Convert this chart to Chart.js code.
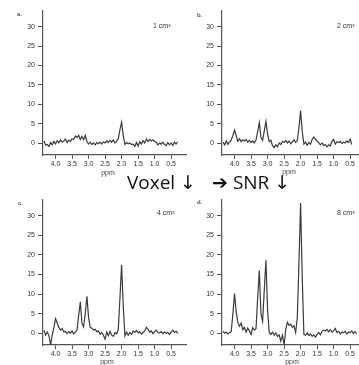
<!DOCTYPE html>
<html><head><meta charset="utf-8">
<script src="https://cdn.jsdelivr.net/npm/chart.js@4/dist/chart.umd.min.js"></script>
<style>
html,body{margin:0;padding:0;background:#fff;width:359px;height:365px;overflow:hidden;position:relative}
canvas{position:absolute}
.t{position:absolute;font-family:"Liberation Sans",Arial,sans-serif;color:#444;white-space:nowrap;line-height:1}
.lt{font-size:6px;font-weight:bold;color:#555}
.vol{font-size:7px;color:#333}
.ppm{font-size:7px;color:#444;transform:translateX(-50%)}
.big{position:absolute;font-family:"Open Sans","DejaVu Sans",sans-serif;font-size:19px;font-weight:500;color:#111;white-space:nowrap;line-height:19px}
</style></head><body>
<canvas id="ca" width="190" height="180" style="left:0;top:0;width:190px;height:180px"></canvas>
<canvas id="cb" width="190" height="180" style="left:179px;top:0;width:190px;height:180px"></canvas>
<canvas id="cc" width="190" height="180" style="left:0;top:189px;width:190px;height:180px"></canvas>
<canvas id="cd" width="190" height="180" style="left:179px;top:189px;width:190px;height:180px"></canvas>

<div class="t lt" style="left:17px;top:11px">a.</div>
<div class="t lt" style="left:197px;top:12px">b.</div>
<div class="t lt" style="left:18px;top:200px">c.</div>
<div class="t lt" style="left:197px;top:199px">d.</div>

<div class="t vol" style="left:153px;top:22px">1 cm³</div>
<div class="t vol" style="left:337px;top:22px">2 cm³</div>
<div class="t vol" style="left:157px;top:209px">4 cm³</div>
<div class="t vol" style="left:337px;top:209px">8 cm³</div>

<div class="t ppm" style="left:108px;top:169px">ppm</div>
<div class="t ppm" style="left:289px;top:168px">ppm</div>
<div class="t ppm" style="left:107px;top:358px">ppm</div>
<div class="t ppm" style="left:292px;top:358px">ppm</div>

<div class="big" style="left:127px;top:173px">Voxel ↓<span style="margin-left:16px">➔ SNR ↓</span></div>

<script>
// chemical shift grid (ppm)
const ppm = [4.35,4.30,4.25,4.20,4.15,4.10,4.05,4.00,3.95,3.90,
             3.85,3.80,3.75,3.70,3.65,3.60,3.55,3.50,3.45,3.40,
             3.35,3.30,3.25,3.20,3.15,3.10,3.05,3.00,2.95,2.90,
             2.85,2.80,2.75,2.70,2.65,2.60,2.55,2.50,2.45,2.40,
             2.35,2.30,2.25,2.20,2.15,2.10,2.05,2.00,1.95,1.90,
             1.85,1.80,1.75,1.70,1.65,1.60,1.55,1.50,1.45,1.40,
             1.35,1.30,1.25,1.20,1.15,1.10,1.05,1.00,0.95,0.90,
             0.85,0.80,0.75,0.70,0.65,0.60,0.55,0.50,0.45,0.40,
             0.35,0.30];

// a. 1 cm3
const spec1 = [0.6,-0.5,-0.3,-0.8,0.2,-0.4,0.5,-0.2,0.7,0.1,
               0.9,0.3,0.6,1.1,0.2,0.8,0.5,1.2,1.0,1.9,
               1.5,2.1,1.0,1.8,0.9,2.0,0.4,-0.2,0.3,-0.3,
               0.1,-0.4,0.2,-0.1,0.3,-0.2,0.4,0.1,0.6,0.2,
               0.8,0.3,0.9,0.1,0.5,1.2,3.5,5.4,2.0,-0.3,
               0.2,-0.1,0.1,-0.3,-0.2,-0.8,0.2,-0.7,0.4,-0.2,
               0.7,0.1,1.1,0.4,1.0,0.6,0.9,0.5,0.3,-0.4,
               0.1,-0.2,0.3,-0.3,-0.6,0.2,-0.4,0.1,-0.5,0.3,
               -0.2,0.4];
// b. 2 cm3
const spec2 = [0.3,-0.4,0.6,-0.3,0.4,0.8,2.0,3.4,2.0,0.5,
               1.2,0.4,0.9,0.6,1.0,0.3,0.8,0.2,0.6,0.1,
               0.9,3.0,5.3,1.5,0.8,3.2,5.6,2.4,0.5,0.8,
               -0.6,-1.1,-0.4,-0.9,0.1,-0.3,0.5,0.2,0.7,0.1,
               0.6,-0.1,0.4,0.9,0.2,0.7,4.0,8.4,3.0,-0.2,
               0.3,-0.5,0.2,-0.2,1.0,1.6,1.1,0.6,0.2,-0.4,
               0.1,-0.6,-0.3,-0.9,-0.4,-0.7,0.5,1.0,-0.2,0.4,
               0.2,0.5,-0.1,0.3,0.1,0.6,0.2,1.1,-0.3,null,
               null,null];
// c. 4 cm3
const spec4 = [0.8,-0.5,0.3,-0.6,-3.0,-0.4,1.5,3.7,2.6,1.5,
               0.8,1.2,0.3,0.5,-0.1,0.4,0.0,0.6,-0.2,0.3,
               0.8,4.5,8.0,2.5,1.6,5.0,9.4,4.0,1.5,1.3,
               0.8,1.0,0.4,0.6,-0.3,0.2,-0.5,-1.5,0.3,-0.6,
               0.5,-0.5,-0.8,0.2,-0.2,1.0,9.0,17.5,7.0,-0.7,
               0.3,-0.5,0.2,-0.3,0.6,0.2,0.7,0.1,0.4,-0.2,
               0.2,0.6,1.5,1.0,0.3,0.6,-0.1,0.4,0.8,0.2,
               0.1,0.4,-0.1,0.3,0.0,0.2,-0.3,0.3,0.8,0.2,
               0.5,0.0];
// d. 8 cm3
const spec8 = [0.5,0.0,0.3,-0.2,0.1,0.4,5.0,10.1,5.5,2.7,
               1.8,2.6,0.9,1.5,0.3,1.3,0.6,-0.3,1.4,0.8,
               1.2,9.0,16.0,5.0,3.0,11.0,18.6,6.0,0.2,-0.3,
               0.3,-0.5,0.1,-0.8,-0.4,-2.0,-0.5,-3.0,1.0,2.8,
               2.0,2.3,1.5,1.9,0.2,4.0,18.0,33.2,14.0,-0.3,
               -0.5,0.1,-0.6,-0.2,-0.8,-0.4,-1.0,-0.3,0.2,-0.4,
               0.5,0.8,0.6,1.0,0.4,0.9,0.3,0.6,1.2,0.2,
               0.5,-0.2,0.3,0.1,0.5,-0.2,0.3,0.1,0.6,0.0,
               0.4,-0.1];

const xTicks = [4.0,3.5,3.0,2.5,2.0,1.5,1.0,0.5];
const yTicks = [0,5,10,15,20,25,30];

function makeChart(id, vals, areaH, xAxisH){
  const pts = ppm.map((x,i)=>({x:x, y:vals[i]}));
  const tickFont = {family:'"Liberation Sans", Arial, sans-serif', size:7};
  return new Chart(document.getElementById(id), {
    type:'line',
    data:{datasets:[{data:pts, borderColor:'#3a3a3a', borderWidth:1.2, pointRadius:0, tension:0, fill:false, spanGaps:false}]},
    options:{
      responsive:false, animation:false, devicePixelRatio:1,
      layout:{padding:{top:11,right:4,left:0,bottom:0}},
      plugins:{legend:{display:false}, tooltip:{enabled:false}},
      scales:{
        x:{type:'linear', reverse:true, min:0.05, max:4.38,
           afterBuildTicks:s=>{s.ticks = xTicks.map(v=>({value:v}));},
           afterFit:s=>{s.height = xAxisH;},
           ticks:{autoSkip:false, maxRotation:0, padding:1, color:'#333', font:tickFont, callback:v=>Number(v).toFixed(1)},
           grid:{display:true, drawOnChartArea:false, drawTicks:true, tickLength:4, color:'#555', lineWidth:1},
           border:{display:true, color:'#555', width:1.2}},
        y:{type:'linear', min:-3, max:34,
           afterBuildTicks:s=>{s.ticks = yTicks.map(v=>({value:v}));},
           afterFit:s=>{s.width = 43;},
           ticks:{autoSkip:false, padding:3, color:'#333', font:tickFont},
           grid:{display:true, drawOnChartArea:false, drawTicks:true, tickLength:5, color:'#555', lineWidth:1},
           border:{display:true, color:'#555', width:1.2}}
      }
    }
  });
}
makeChart('ca', spec1, 144, 25);
makeChart('cb', spec2, 144, 25);
makeChart('cc', spec4, 145, 24);
makeChart('cd', spec8, 145, 24);
</script>
</body></html>
